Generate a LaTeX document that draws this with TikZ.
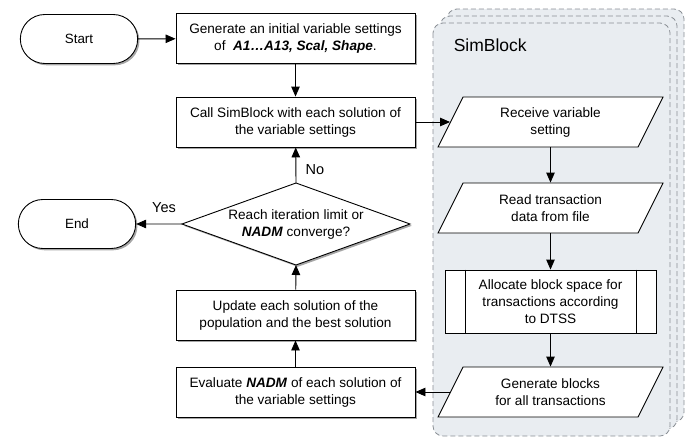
\documentclass[tikz,border=0pt]{standalone}
\usepackage{fontspec}
\setmainfont{Liberation Sans}
\usetikzlibrary{arrows.meta,shapes.misc,shapes.geometric,shadows,calc}
\definecolor{simfill}{HTML}{E9EDF1}
\definecolor{simdash}{HTML}{8A8F95}
\begin{document}
\begin{tikzpicture}[x=1pt,y=-1pt,
  font=\fontsize{13.6}{17}\selectfont,
  line width=0.9pt,
  arr/.style={-{Triangle[length=10pt,width=8.5pt]}},
  shd/.style={drop shadow={shadow xshift=1.8pt,shadow yshift=-1.8pt,fill=black,opacity=0.35}},
  procbox/.style={draw, fill=white, shd, minimum width=239pt, minimum height=50pt, align=center, inner sep=2pt},
  term/.style={draw, fill=white, shd, rounded rectangle, minimum width=124pt, minimum height=49pt, font=\fontsize{13.4}{16}\selectfont},
  iobox/.style={minimum width=200pt, minimum height=50pt, align=center, inner sep=0pt},
  simbg/.style={draw=simdash, dash pattern=on 5pt off 3pt, fill=simfill, rounded corners=10pt, line width=0.8pt},
  para/.style={draw, fill=white},
  lbl/.style={font=\fontsize{14.5}{17}\selectfont}]
\useasboundingbox (0,0) rectangle (695,439);

% SimBlock stack
\draw[simbg] (447,9) rectangle (684,422);
\draw[simbg] (440,16) rectangle (677,429);
\draw[simbg] (433,23) rectangle (670,436);
\node[anchor=west, font=\fontsize{17.5}{20}\selectfont] (simtitle) at (450,45) {SimBlock};

% left column
\node[term] (start) at (79,39) {Start};
\node[term] (end) at (77,224) {End};
\node[procbox] (gen0) at (295.5,38.5) {Generate an initial variable settings\\ of \ \textbf{\textit{A1…A13, Scal, Shape}}.};
\node[procbox] (call) at (295.5,122) {Call SimBlock with each solution of\\ the variable settings};
\node[procbox] (upd) at (295.5,315) {Update each solution of the\\ population and the best solution};
\node[procbox] (eval) at (295.5,392) {Evaluate \textbf{\textit{NADM}} of each solution of\\ the variable settings};

% decision
\coordinate (diaT) at (296,183);
\coordinate (diaB) at (296,265);
\coordinate (diaL) at (182,224);
\coordinate (diaR) at (410,224);
\draw[fill=white, shd] (diaT) -- (diaR) -- (diaB) -- (diaL) -- cycle;
\node[align=center] (dia) at (296,224) {Reach iteration limit or\\ \textbf{\textit{NADM}} converge?};

% SimBlock contents
\draw[para] (438,147) -- (638,147) -- (663,97) -- (463,97) -- cycle;
\node[iobox] (rec) at (550.5,122) {Receive variable\\ setting};
\draw[para] (438,233) -- (638,233) -- (663,183) -- (463,183) -- cycle;
\node[iobox] (read) at (550.5,208) {Read transaction\\ data from file};
\node[draw, fill=white, minimum width=211pt, minimum height=63pt, align=center, inner sep=0pt] (alloc) at (550.5,301.5) {Allocate block space for\\ transactions according\\ to DTSS};
\draw ($(alloc.north west)+(21,0)$) -- ($(alloc.south west)+(21,0)$);
\draw ($(alloc.north east)+(-20,0)$) -- ($(alloc.south east)+(-20,0)$);
\draw[para] (438,417) -- (638,417) -- (663,367) -- (463,367) -- cycle;
\node[iobox] (gblk) at (550.5,392) {Generate blocks\\ for all transactions};

% connectors
\draw[arr] (start) -- (gen0);
\draw[arr] (gen0) -- (call);
\draw[arr] (call) -- (rec);
\draw[arr] (rec) -- (read);
\draw[arr] (read) -- (alloc);
\draw[arr] (alloc) -- (gblk);
\draw[arr] (gblk) -- (eval);
\draw[arr] (eval) -- (upd);
\draw[arr] (upd) -- (diaB);
\draw[arr] (diaT) -- (call);
\draw[arr] (diaL) -- (end);
\node[lbl] (no) at (315,170) {No};
\node[lbl] (yes) at (164,208) {Yes};
\end{tikzpicture}
\end{document}
